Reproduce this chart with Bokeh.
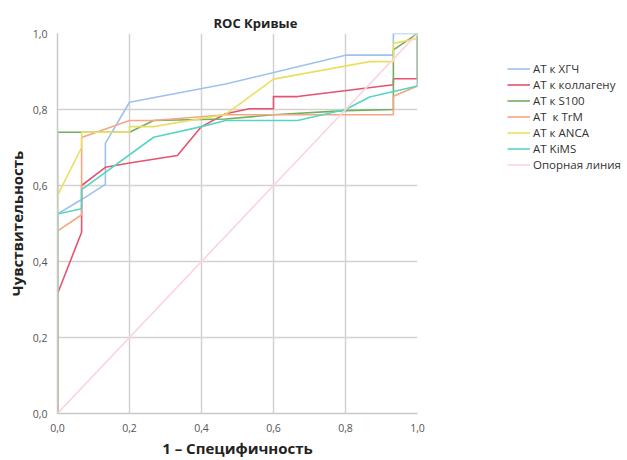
from bokeh.plotting import figure
from bokeh.models import Legend, LegendItem, FixedTicker, CustomJSTickFormatter, Range1d
from bokeh.embed import file_html
from bokeh.resources import INLINE

# ---- data ----
hcg_x = [0, 0, 0.067, 0.133, 0.133, 0.2, 0.467, 0.8, 0.933, 0.933, 1.0]
hcg_y = [0, 0.525, 0.563, 0.603, 0.711, 0.819, 0.867, 0.943, 0.943, 1.0, 1.0]

col_x = [0, 0, 0.067, 0.067, 0.133, 0.2, 0.333, 0.4, 0.467, 0.533, 0.6, 0.6, 0.667, 0.933, 0.933, 1.0, 1.0]
col_y = [0, 0.315, 0.477, 0.6, 0.648, 0.659, 0.679, 0.755, 0.789, 0.802, 0.802, 0.834, 0.834, 0.865, 0.881, 0.881, 1.0]

s100_x = [0, 0, 0.2, 0.267, 0.467, 0.6, 0.8, 0.933, 0.933, 1.0]
s100_y = [0, 0.74, 0.74, 0.771, 0.775, 0.786, 0.797, 0.8, 0.957, 1.0]

trm_x = [0, 0, 0.067, 0.067, 0.2, 0.267, 0.467, 0.933, 0.933, 1.0, 1.0]
trm_y = [0, 0.48, 0.523, 0.726, 0.771, 0.771, 0.786, 0.786, 0.835, 0.862, 1.0]

anca_x = [0, 0, 0.067, 0.067, 0.2, 0.2, 0.267, 0.467, 0.6, 0.867, 0.933, 0.933, 1.0, 1.0]
anca_y = [0, 0.574, 0.70, 0.74, 0.74, 0.755, 0.755, 0.787, 0.88, 0.926, 0.926, 0.974, 0.987, 1.0]

kims_x = [0, 0, 0.067, 0.067, 0.267, 0.4, 0.467, 0.667, 0.8, 0.867, 1.0, 1.0]
kims_y = [0, 0.525, 0.539, 0.589, 0.727, 0.755, 0.771, 0.771, 0.8, 0.833, 0.862, 1.0]

ref_x = [0, 1]
ref_y = [0, 1]

names = ["АТ к ХГЧ", "АТ к коллагену", "АТ к S100", "АТ  к TrM", "АТ к ANCA", "АТ KiMS", "Опорная линия"]
colors = ["#9cc2ee", "#e5536f", "#73ad62", "#f6a683", "#e9e062", "#55d6c2", "#fcd4e0"]
ticks = [0, 0.2, 0.4, 0.6, 0.8, 1.0]

series = [(hcg_x, hcg_y), (col_x, col_y), (s100_x, s100_y), (trm_x, trm_y),
          (anca_x, anca_y), (kims_x, kims_y), (ref_x, ref_y)]

FONT = "Open Sans"

p = figure(frame_width=360, frame_height=380, output_backend="svg", toolbar_location=None,
           x_range=Range1d(0, 1), y_range=Range1d(0, 1),
           min_border_left=57, min_border_right=209, min_border_top=33, min_border_bottom=44,
           title="ROC Кривые")
p.outline_line_color = None
p.background_fill_color = "white"
p.border_fill_color = "white"

p.title.align = "left"
p.title.offset = 156
p.title.standoff = 3
p.title.text_font = FONT
p.title.text_font_style = "bold"
p.title.text_font_size = "13px"
p.title.text_color = "#222222"

for ax in (p.xaxis[0], p.yaxis[0]):
    ax.ticker = FixedTicker(ticks=ticks)
    ax.formatter = CustomJSTickFormatter(code="return tick.toFixed(1).replace('.', ',');")
    ax.major_tick_line_color = None
    ax.minor_tick_line_color = None
    ax.axis_line_color = "#c8c8c8"
    ax.axis_line_width = 1.5
    ax.major_label_text_font = FONT
    ax.major_label_text_font_size = "10.5px"
    ax.major_label_text_color = "#555555"
    ax.axis_label_text_font = FONT
    ax.axis_label_text_font_style = "bold"
    ax.axis_label_text_font_size = "15px"
    ax.axis_label_text_color = "#222222"

p.xaxis.axis_label = "1 – Специфичность"
p.yaxis.axis_label = "Чувствительность"
p.xaxis.major_label_standoff = 4
p.xaxis.axis_label_standoff = 3
p.yaxis.major_label_standoff = 4
p.yaxis.axis_label_standoff = 3

for g in (p.xgrid[0], p.ygrid[0]):
    g.ticker = FixedTicker(ticks=ticks)
    g.grid_line_color = "#d2d2d2"
    g.grid_line_width = 1.5

renderers = []
for (xs, ys), c in zip(series, colors):
    r = p.line(xs, ys, line_color=c, line_width=1.6)
    renderers.append(r)

legend = Legend(items=[LegendItem(label=n, renderers=[r]) for n, r in zip(names, renderers)],
                location=(90, 241), padding=0, margin=0, spacing=1,
                label_height=15, glyph_height=15, glyph_width=23, label_standoff=3,
                label_text_font=FONT, label_text_font_size="11.5px", label_text_color="#333333",
                label_text_line_height=1.2,
                border_line_color=None, background_fill_alpha=0)
p.add_layout(legend, "right")

open("out.html", "w").write(file_html(p, INLINE))
